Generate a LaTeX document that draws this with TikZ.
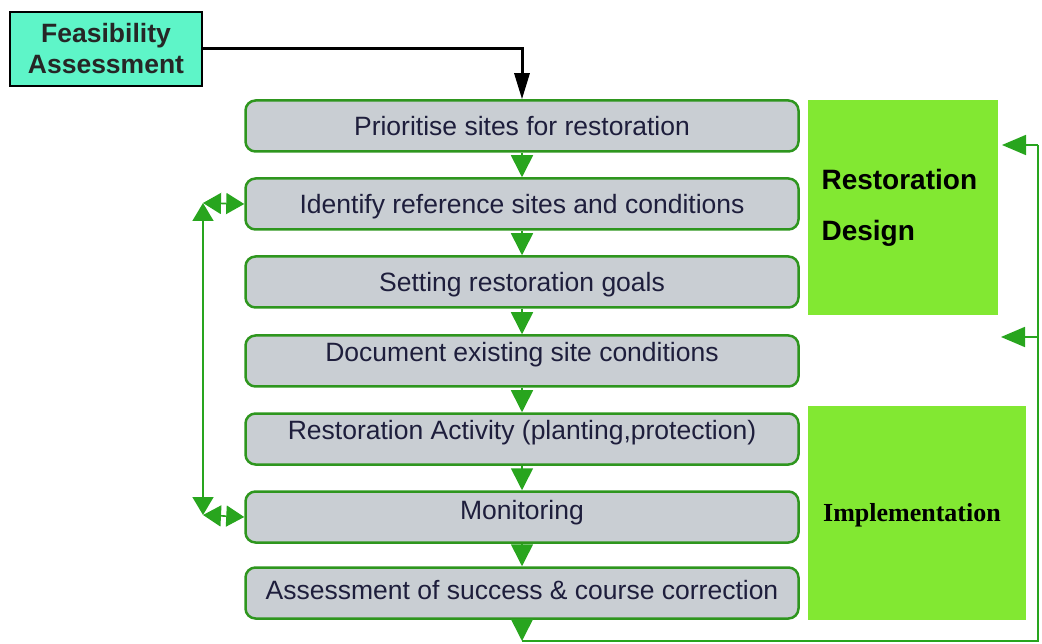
\documentclass[tikz,border=0pt]{standalone}
\usepackage{fontspec}
\setmainfont{Liberation Sans}
\newfontfamily\serifbold{Liberation Serif}
\usetikzlibrary{arrows.meta}

\definecolor{stepgray}{RGB}{201,206,211}
\definecolor{stepline}{RGB}{46,150,30}
\definecolor{flowgreen}{RGB}{40,165,30}
\definecolor{phasegreen}{RGB}{130,232,50}
\definecolor{aqua}{RGB}{94,245,200}
\definecolor{steptext}{RGB}{30,30,60}

\tikzset{
  stepbox/.style={rectangle,rounded corners=10pt,draw=stepline,line width=2.5pt,
    fill=stepgray,minimum width=553pt,minimum height=51pt,inner sep=0pt,
    text height=19pt,text depth=0pt,
    font=\fontsize{26.5}{30}\selectfont,text=steptext},
  raised/.style={text depth=#1},
  phase/.style={rectangle,fill=phasegreen,inner sep=0pt,anchor=north west},
  flow/.style={flowgreen,line width=1.6pt,-{Triangle[length=22pt,width=22pt]}},
  loop/.style={flowgreen,line width=1.6pt,{Triangle[length=18pt,width=21pt]}-{Triangle[length=18pt,width=21pt]}},
  back/.style={flowgreen,line width=1.8pt,-{Triangle[length=24pt,width=20pt]}}
}

\begin{document}
\begin{tikzpicture}[x=1pt,y=-1pt]
  \useasboundingbox (0,0) rectangle (1042,644);

  % steps
  \begin{scope}[every node/.style={stepbox}]
    \node (1) at (522,126) {Prioritise sites for restoration};
    \node (2) at (522,204) {Identify reference sites and conditions};
    \node (3) at (522,282) {Setting restoration goals};
    \node[raised=17pt] (4) at (522,361) {Document existing site conditions};
    \node[raised=19pt] (5) at (522,439) {Restoration Activity (planting,protection)};
    \node[raised=14pt] (6) at (522,517) {Monitoring};
    \node[raised=7pt] (7) at (522,593) {Assessment of success \& course correction};
  \end{scope}

  % phases
  \node[phase,minimum width=190pt,minimum height=215pt] (rd) at (808,100) {};
  \node[anchor=west,align=left,font=\fontsize{28}{51}\selectfont\bfseries] (rdt) at (818,208)
    {Restoration\\Design};
  \node[phase,minimum width=218pt,minimum height=214pt] (im) at (808,406) {};
  \node[font=\fontsize{26}{30}\selectfont\serifbold\bfseries] (imt) at (912,515) {Implementation};

  % feasibility
  \node[rectangle,draw=black,line width=2.5pt,fill=aqua,minimum width=192pt,minimum height=74pt,
    align=center,font=\fontsize{26.5}{31}\selectfont\bfseries,text=black!85] (fa) at (106,49)
    {Feasibility\\Assessment};
  \draw[black,line width=3pt,-{Triangle[length=26pt,width=15pt]}] (fa.east) -| (1.north);

  % flow down
  \begin{scope}[every edge/.style={draw,flow}]
    \path (1) edge (2);
    \path (2) edge (3);
    \path (3) edge (4);
    \path (4) edge (5);
    \path (5) edge (6);
    \path (6) edge (7);
  \end{scope}

  % loop on the left
  \coordinate (lt) at (203,203);
  \coordinate (lb) at (203,515);
  \draw[loop] (lt) -- (2.west);
  \draw[loop] (lb) -- (6.west);
  \draw[loop] (lt) -- (lb);

  % feedback on the right
  \coordinate (b1) at (522,641);
  \coordinate (b2) at (1038,641);
  \coordinate (r1) at (1038,145);
  \coordinate (r2) at (1038,337);
  \draw[flow] (7.south) -- (b1);
  \draw[flowgreen,line width=1.8pt] (b1) -- (b2) -- (r1);
  \draw[back] (r1) -- (1002,145);
  \draw[back] (r2) -- (1001,337);
\end{tikzpicture}
\end{document}
